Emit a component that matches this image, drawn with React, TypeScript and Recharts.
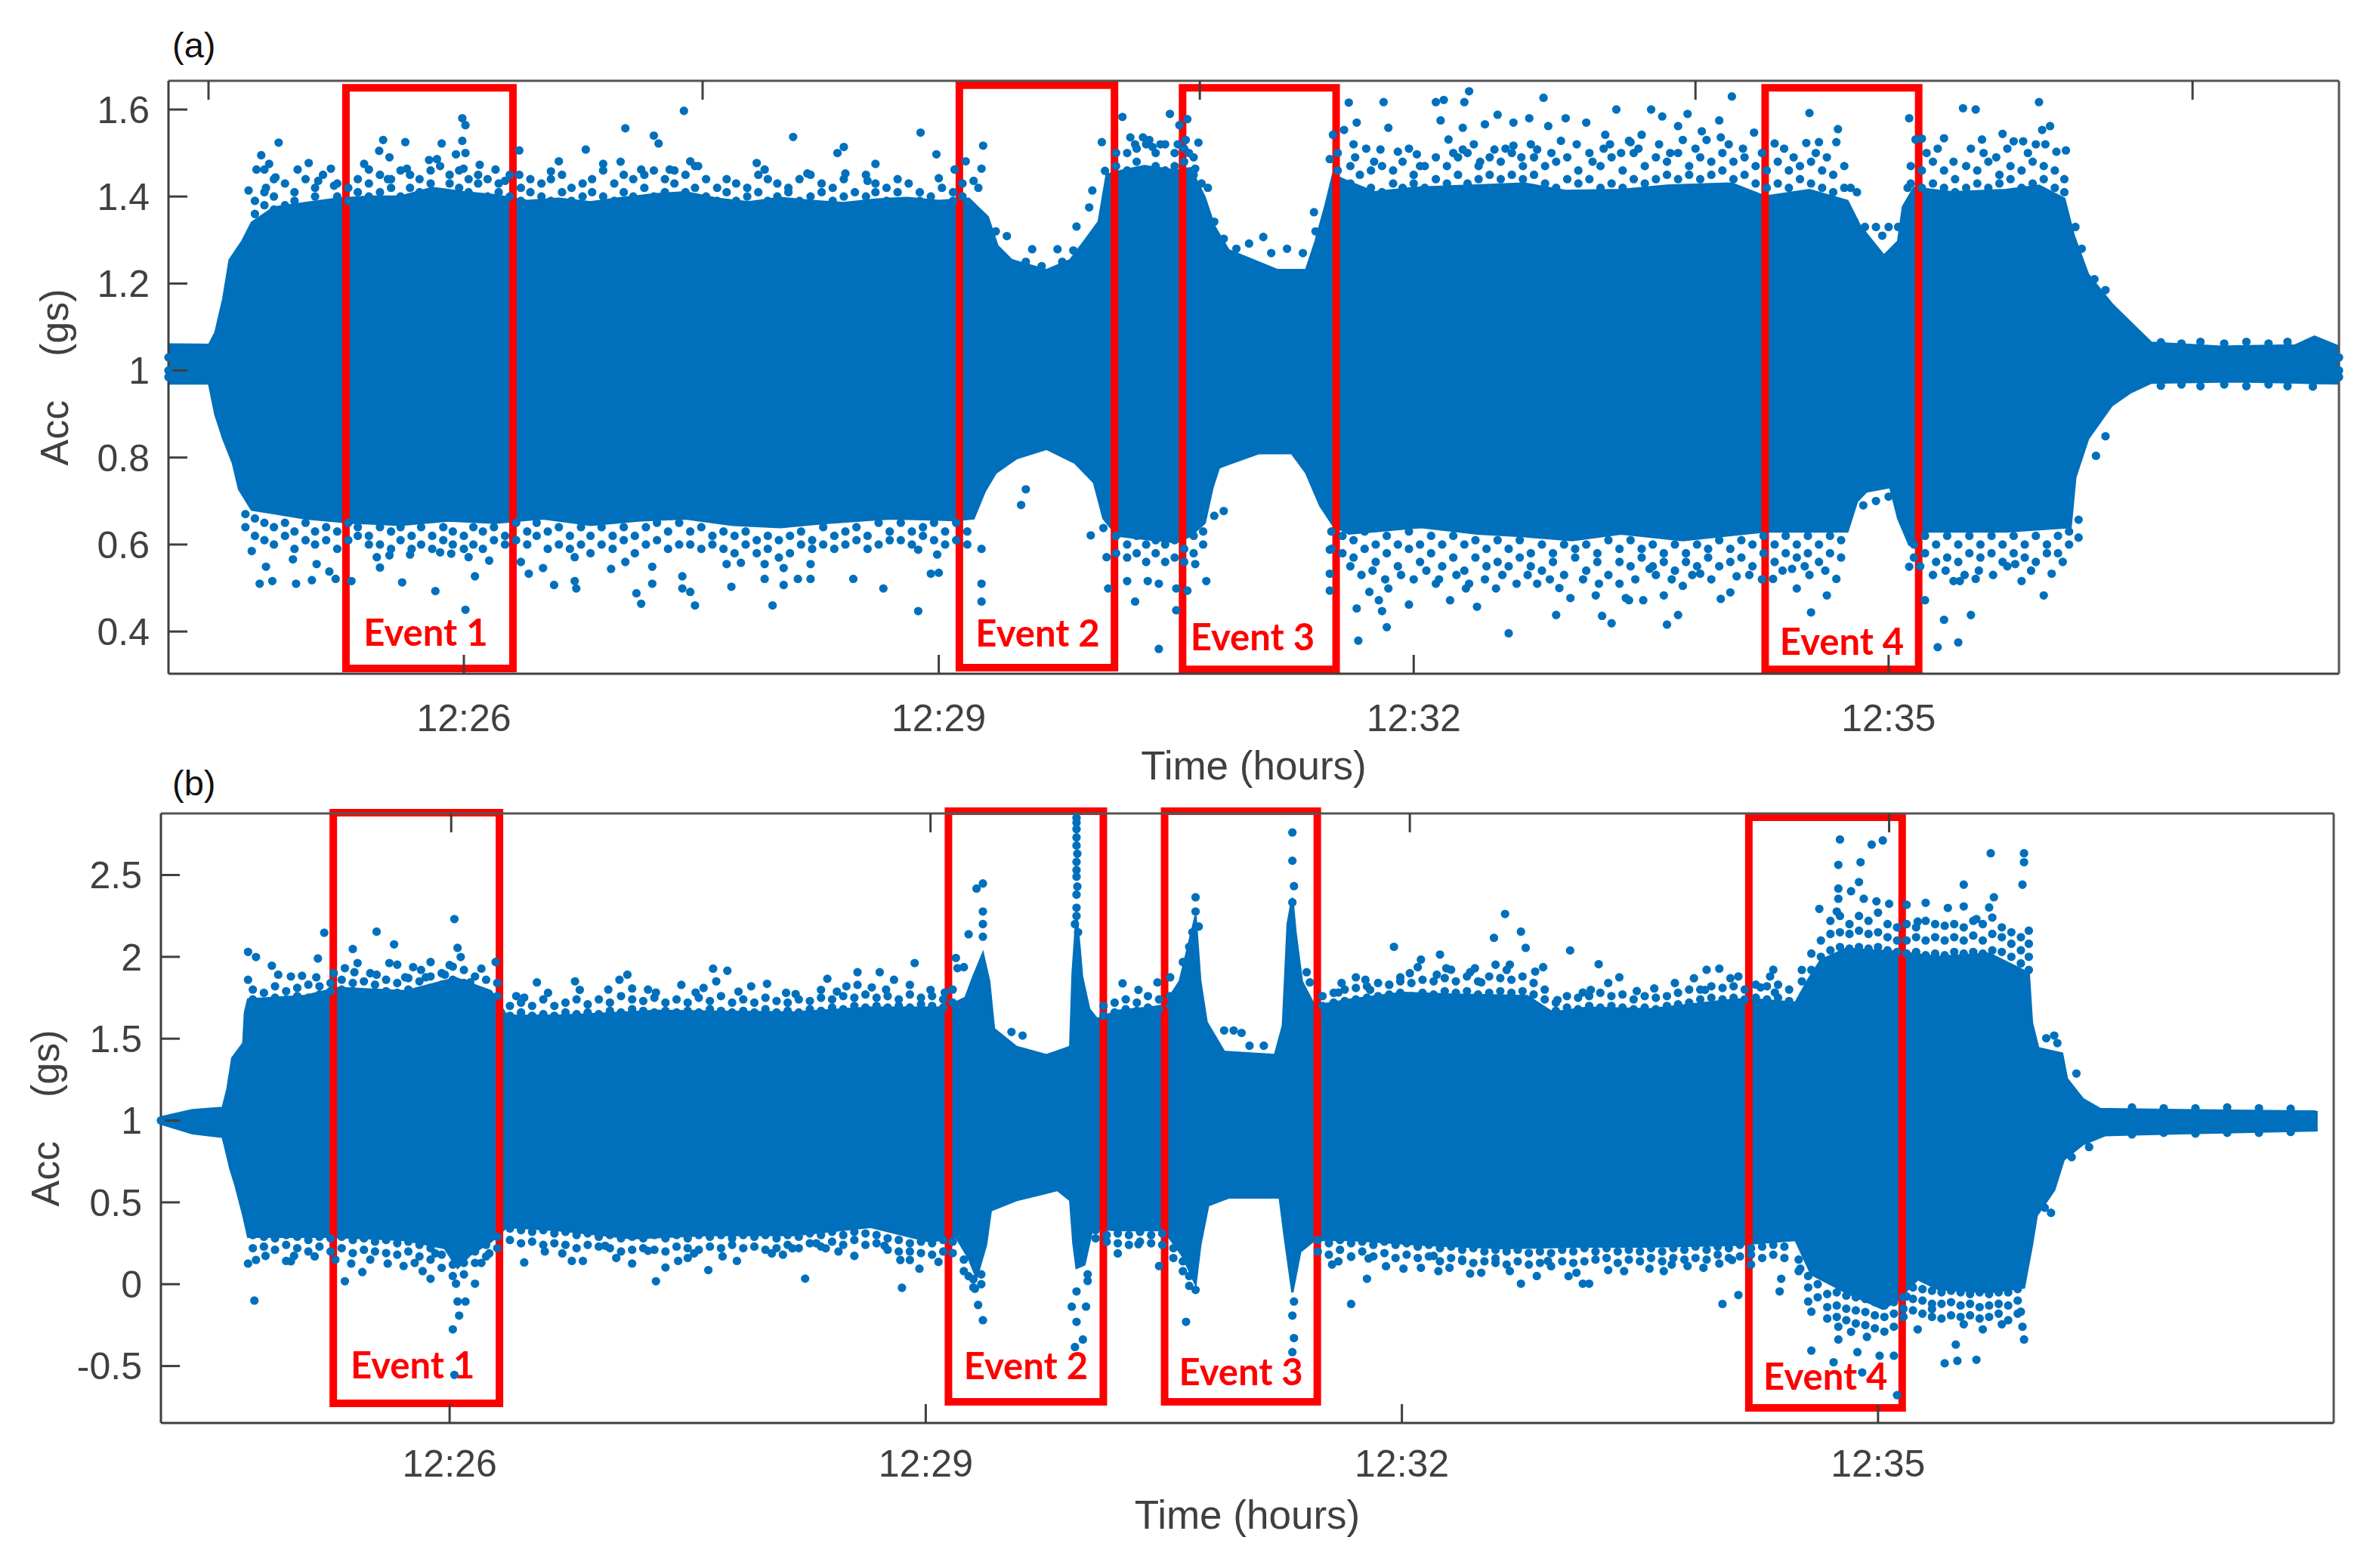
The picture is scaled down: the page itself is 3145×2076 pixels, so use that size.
import React from "react";
import { ComposedChart, Area, Scatter, XAxis, YAxis, ZAxis, ReferenceArea } from "recharts";

type P = [number, number];
type C = [number, number[]];
type Box = [string, number, number, number, number, number, number];

const BLUE = "#0070BC";
const xTickMinutes = [26, 29, 32, 35];
const aYTicks = [0.4, 0.6, 0.8, 1, 1.2, 1.4, 1.6];
const bYTicks = [-0.5, 0, 0.5, 1, 1.5, 2, 2.5];
const aTopTicks = [24.387, 27.508, 30.649, 33.78, 36.92];
const bTopTicks = [26.01, 29.03, 32.05, 35.07];

// [time (minutes after 12:00), dense band top]
const aHigh: P[] = [[24.134,1.06],[24.39,1.059],[24.43,1.087],[24.48,1.165],[24.52,1.254],[24.6,1.297],[24.66,1.34],[24.8,1.375],[25,1.385],[25.2,1.395],[25.4,1.4],[25.6,1.4],[25.8,1.42],[26,1.41],[26.2,1.403],[26.4,1.39],[26.6,1.395],[26.8,1.387],[27,1.397],[27.2,1.405],[27.4,1.41],[27.6,1.395],[27.8,1.387],[28,1.397],[28.2,1.39],[28.4,1.385],[28.6,1.393],[28.8,1.397],[29,1.39],[29.19,1.395],[29.31,1.353],[29.37,1.287],[29.46,1.254],[29.68,1.231],[29.83,1.254],[29.92,1.297],[30.01,1.342],[30.06,1.45],[30.16,1.46],[30.3,1.47],[30.5,1.46],[30.59,1.465],[30.68,1.398],[30.74,1.332],[30.83,1.277],[31.14,1.231],[31.32,1.231],[31.38,1.297],[31.44,1.376],[31.49,1.45],[31.55,1.44],[31.75,1.41],[32,1.42],[32.35,1.425],[32.7,1.43],[32.96,1.413],[33.31,1.415],[33.6,1.425],[34.01,1.43],[34.22,1.4],[34.5,1.415],[34.74,1.39],[34.82,1.332],[34.97,1.264],[35.06,1.297],[35.09,1.376],[35.16,1.42],[35.4,1.41],[35.74,1.415],[35.95,1.425],[36.11,1.395],[36.17,1.31],[36.26,1.221],[36.41,1.153],[36.53,1.11],[36.66,1.064],[37.1,1.055],[37.57,1.058],[37.69,1.078],[37.845,1.055]];
// [time, dense band bottom]
const aLow: P[] = [[24.134,0.97],[24.39,0.97],[24.43,0.899],[24.48,0.843],[24.54,0.788],[24.58,0.727],[24.66,0.68],[25,0.66],[25.3,0.65],[25.6,0.645],[25.9,0.655],[26.2,0.65],[26.5,0.66],[26.8,0.645],[27.1,0.655],[27.4,0.66],[27.7,0.645],[28,0.64],[28.3,0.65],[28.7,0.66],[29.1,0.656],[29.22,0.66],[29.29,0.722],[29.36,0.765],[29.49,0.798],[29.68,0.82],[29.86,0.788],[29.98,0.743],[30.04,0.66],[30.13,0.62],[30.5,0.605],[30.59,0.62],[30.68,0.65],[30.73,0.732],[30.77,0.777],[31.02,0.81],[31.23,0.81],[31.32,0.765],[31.41,0.689],[31.49,0.645],[31.59,0.625],[32.05,0.64],[32.4,0.625],[32.66,0.62],[33,0.61],[33.31,0.625],[33.7,0.61],[34.22,0.63],[34.74,0.63],[34.8,0.699],[34.86,0.722],[35.01,0.732],[35.06,0.66],[35.13,0.6],[35.25,0.63],[35.74,0.63],[36.15,0.64],[36.18,0.755],[36.26,0.843],[36.41,0.92],[36.53,0.95],[36.66,0.972],[37.2,0.975],[37.845,0.97]];

const aTopDots: P[] = [[24.83,1.524],[24.72,1.495],[24.77,1.475],[24.69,1.462],[24.74,1.462],[24.81,1.444],[24.95,1.462],[25.02,1.477],[25.16,1.464],[25.08,1.436],[25.18,1.425],[24.64,1.414],[24.75,1.42],[25.37,1.475],[25.4,1.462],[25.49,1.53],[25.465,1.505],[25.53,1.49],[25.63,1.525],[25.64,1.464],[25.52,1.44],[25.86,1.522],[25.78,1.484],[25.83,1.486],[25.99,1.58],[26.01,1.564],[25.99,1.528],[25.95,1.497],[26.01,1.5],[25.998,1.464],[26.1,1.473],[26.2,1.462],[26.26,1.436],[26.35,1.506],[26.35,1.45],[26.55,1.458],[26.6,1.481],[26.77,1.508],[27.02,1.557],[27.2,1.54],[27.23,1.522],[27.39,1.597],[26.88,1.475],[26.99,1.48],[27.12,1.462],[27.3,1.462],[27.43,1.481],[27.48,1.47],[27.85,1.477],[27.9,1.462],[28.08,1.537],[28.36,1.5],[28.4,1.514],[28.17,1.453],[28.41,1.453],[28.6,1.475],[28.55,1.436],
[28.885,1.547],[28.985,1.497],[29.1,1.462],[29,1.442],[29.28,1.517],[29.17,1.481],[29.27,1.464],[29.22,1.436],[29.25,1.42],[29.97,1.414],[30.03,1.525],[30.05,1.459],[29.95,1.375],[29.87,1.331],[29.43,1.309],[29.36,1.32],[29.59,1.279],[29.75,1.279],[29.85,1.276],[29.55,1.25],[29.65,1.24],[29.78,1.25],[30.16,1.583],[30.46,1.59],[30.21,1.536],[30.29,1.536],[30.35,1.514],[30.57,1.578],[30.52,1.564],[30.51,1.52],[30.64,1.524],[30.62,1.464],[30.74,1.342],[30.8,1.303],[31.05,1.307],[30.96,1.292],[31.37,1.364],[31.38,1.32],[31.47,1.486],[31.49,1.542],[30.7,1.42],[30.66,1.43],[30.88,1.28],[31.2,1.28],[31.1,1.27],[31.3,1.27],[31.59,1.616],[31.81,1.617],[32.14,1.617],[32.19,1.622],[32.32,1.617],[32.35,1.642],[32.82,1.627],[33.28,1.6],[31.56,1.553],[31.64,1.57],[31.84,1.558],[32.17,1.575],[32.31,1.558],[32.45,1.566],[32.53,1.588],[32.63,1.57],[32.73,1.58],[32.85,1.562],[32.96,1.58],[33.09,1.57],[32.93,1.528],[33.21,1.542],[33.36,1.528],[33.44,1.542],[31.62,1.52],[31.79,1.508],[31.9,1.503],[32.02,1.497],[32.22,1.531],[32.31,1.508],[32.51,1.508],[32.63,1.517],[32.78,1.508],[33.24,1.52],
[33.5,1.6],[33.57,1.584],[33.73,1.59],[33.67,1.562],[33.93,1.575],[33.82,1.55],[34.01,1.63],[34.15,1.547],[33.94,1.536],[33.37,1.525],[34.5,1.592],[34.68,1.555],[34.28,1.522],[34.48,1.523],[34.56,1.525],[34.67,1.525],[35.13,1.58],[35.17,1.531],[35.21,1.533],[35.35,1.534],[35.47,1.603],[35.55,1.6],[35.72,1.544],[35.59,1.531],[35.79,1.527],[35.85,1.527],[35.95,1.617],[36.02,1.562],[35.97,1.553],[35.99,1.52],[36.12,1.506],[36.06,1.503],[34.76,1.42],[34.8,1.41],[34.85,1.33],[34.92,1.33],[34.96,1.31],[35,1.33],[35.06,1.33],[35.12,1.42],[36.18,1.33],[36.22,1.28],[36.3,1.21],[36.37,1.185],
[24.134,1.03],[24.134,1.0],[37.845,1.03],[37.845,1.0],[36.72,1.065],[36.85,1.062],[36.97,1.066],[37.12,1.062],[37.26,1.066],[37.4,1.062],[37.52,1.066],
[31.63,1.49],[31.7,1.51],[31.75,1.48],[31.97,1.51],[32.04,1.47],[32.25,1.5],[32.38,1.52],[32.42,1.48],[32.58,1.51],[32.68,1.49],[32.74,1.52],[32.87,1.5],[33.03,1.52],[33.13,1.48],[33.2,1.51],[33.31,1.5],[33.42,1.51],[33.55,1.52],[33.62,1.5],[33.7,1.53],[33.78,1.51],[33.85,1.53],[33.99,1.52],[34.08,1.51],[34.2,1.5],[34.34,1.51],[34.4,1.49],[34.54,1.5],[34.61,1.49],[35.24,1.5],[35.31,1.51],[35.41,1.48],[35.52,1.51],[35.6,1.5],[35.68,1.49],[35.75,1.51],[35.88,1.5],[35.93,1.52],[30.24,1.52],[30.33,1.53],[30.4,1.52],[30.56,1.53],[30.58,1.5]];

const aTopFringe: C[] = [[24.68,[1.36,1.39]],[24.74,[1.38,1.41]],[24.8,[1.37,1.4,1.44]],[24.87,[1.38,1.43]],[24.93,[1.39,1.41]],[25,[1.37,1.44]],[25.06,[1.4,1.42]],[25.11,[1.38,1.45]],[25.2,[1.4,1.43]],[25.27,[1.39,1.42]],[25.33,[1.41,1.44]],[25.4,[1.4,1.43]],[25.47,[1.41,1.45]],[25.54,[1.42,1.44]],[25.6,[1.4,1.46]],[25.66,[1.42,1.45]],[25.72,[1.41,1.44]],[25.79,[1.43,1.46]],[25.85,[1.41,1.47]],[25.91,[1.43,1.45]],[25.97,[1.42,1.46]],[26.03,[1.41,1.44]],[26.09,[1.43,1.45]],[26.15,[1.4,1.44]],[26.22,[1.41,1.43]],[26.29,[1.4,1.45]],[26.36,[1.39,1.42]],[26.42,[1.41,1.44]],[26.49,[1.4,1.43]],[26.55,[1.39,1.44]],[26.62,[1.41,1.45]],[26.68,[1.39,1.42]],[26.75,[1.4,1.43]],[26.81,[1.41,1.44]],[26.88,[1.4,1.46]],[26.95,[1.39,1.43]],[27.01,[1.41,1.45]],[27.07,[1.4,1.44]],[27.14,[1.42,1.45]],[27.2,[1.4,1.46]],[27.27,[1.41,1.44]],[27.33,[1.43,1.46]],[27.4,[1.41,1.45]],[27.46,[1.42,1.47]],[27.53,[1.4,1.44]],[27.6,[1.39,1.42]],[27.66,[1.41,1.44]],[27.72,[1.39,1.43]],[27.79,[1.4,1.42]],[27.86,[1.41,1.45]],[27.92,[1.39,1.44]],[27.98,[1.4,1.43]],[28.05,[1.41,1.42]],[28.12,[1.39,1.44]],[28.19,[1.4,1.45]],[28.26,[1.41,1.43]],[28.33,[1.39,1.42]],[28.4,[1.4,1.44]],[28.47,[1.38,1.41]],[28.54,[1.4,1.45]],[28.6,[1.41,1.43]],[28.67,[1.39,1.42]],[28.74,[1.41,1.44]],[28.81,[1.38,1.43]],[28.88,[1.39,1.41]],[28.95,[1.37,1.4]],[29.02,[1.38,1.42]],[29.09,[1.39,1.41]],[29.15,[1.4,1.43]],
[30.12,[1.47,1.5]],[30.19,[1.46,1.5]],[30.25,[1.48,1.51]],[30.31,[1.46,1.52]],[30.37,[1.47,1.5]],[30.43,[1.46,1.52]],[30.49,[1.47,1.5]],[30.55,[1.48,1.51]],[30.61,[1.45,1.49]],
[31.52,[1.46,1.5]],[31.6,[1.43,1.47]],[31.66,[1.41,1.45]],[31.73,[1.42,1.46]],[31.8,[1.41,1.47]],[31.87,[1.43,1.46]],[31.93,[1.42,1.48]],[32,[1.43,1.45]],[32.07,[1.42,1.47]],[32.14,[1.44,1.49]],[32.21,[1.43,1.47]],[32.28,[1.45,1.49]],[32.34,[1.43,1.5]],[32.41,[1.44,1.47]],[32.48,[1.45,1.49]],[32.55,[1.44,1.48]],[32.62,[1.45,1.5]],[32.69,[1.44,1.47]],[32.76,[1.45,1.49]],[32.83,[1.43,1.47]],[32.9,[1.42,1.48]],[32.97,[1.44,1.49]],[33.04,[1.43,1.46]],[33.11,[1.44,1.5]],[33.18,[1.42,1.47]],[33.25,[1.43,1.49]],[33.32,[1.42,1.46]],[33.39,[1.44,1.5]],[33.46,[1.43,1.47]],[33.53,[1.44,1.49]],[33.6,[1.45,1.48]],[33.67,[1.44,1.5]],[33.74,[1.45,1.47]],[33.81,[1.44,1.49]],[33.88,[1.45,1.48]],[33.95,[1.46,1.5]],[34.02,[1.44,1.48]],[34.09,[1.45,1.49]],[34.16,[1.43,1.47]],[34.23,[1.42,1.46]],[34.3,[1.43,1.48]],[34.37,[1.42,1.46]],[34.44,[1.44,1.47]],[34.51,[1.43,1.48]],[34.58,[1.42,1.46]],[34.65,[1.41,1.45]],[34.72,[1.42,1.47]],
[35.14,[1.43,1.47]],[35.21,[1.42,1.46]],[35.28,[1.43,1.48]],[35.35,[1.42,1.46]],[35.42,[1.41,1.44]],[35.49,[1.42,1.47]],[35.56,[1.43,1.46]],[35.63,[1.42,1.48]],[35.7,[1.43,1.45]],[35.77,[1.44,1.47]],[35.84,[1.42,1.46]],[35.91,[1.43,1.48]],[35.98,[1.44,1.47]],[36.05,[1.42,1.46]],[36.11,[1.41,1.44]]];

const aBottomDots: P[] = [[24.71,0.51],[24.79,0.516],[24.94,0.51],[25.04,0.518],[25.15,0.538],[25.19,0.521],[25.29,0.516],[25.61,0.513],[25.82,0.493],[26.01,0.45],[26.07,0.527],[26.16,0.563],[26.03,0.571],[25.47,0.547],[25.45,0.571],[25.53,0.575],[24.75,0.549],[24.66,0.585],[24.92,0.566],[25.07,0.555],[25.66,0.577],[25.85,0.582],[25.92,0.579],[26.36,0.56],[26.41,0.533],[26.5,0.546],[26.57,0.507],[26.7,0.516],[26.71,0.499],[26.7,0.571],[26.93,0.544],[27.02,0.56],[27.09,0.488],[27.12,0.464],[27.19,0.51],[27.19,0.549],[27.38,0.527],[27.38,0.499],[27.43,0.491],[27.46,0.46],[27.69,0.503],[27.66,0.555],[27.75,0.558],[27.9,0.555],[27.9,0.521],[27.95,0.46],[28.02,0.507],[28.02,0.546],[28.11,0.521],[28.19,0.521],[28.19,0.555],[28.46,0.521],[28.65,0.499],
[28.87,0.447],[28.95,0.533],[29,0.535],[28.99,0.577],[28.87,0.588],[29.27,0.59],[29.27,0.51],[29.27,0.469],[29.52,0.691],[29.55,0.727],[29.96,0.621],[30.04,0.638],[30.06,0.571],[30.07,0.499],[30.19,0.516],[30.24,0.469],[30.39,0.36],[30.32,0.516],[30.39,0.51],[30.5,0.449],[30.5,0.499],[30.57,0.494],[30.69,0.516],[30.62,0.555],[30.8,0.677],[30.74,0.666],[31.47,0.588],[31.47,0.533],[31.47,0.494],[31.64,0.453],[31.65,0.379],[31.72,0.491],[31.78,0.472],[31.8,0.447],[31.83,0.41],[31.97,0.462],[31.84,0.499],[32.14,0.51],[32.23,0.472],[32.33,0.499],[32.4,0.457],[32.6,0.396],[32.52,0.499],[32.9,0.438],[32.78,0.51],[32.99,0.477],[33.15,0.483],[33.19,0.436],[33.25,0.419],[33.36,0.472],[33.45,0.472],
[33.34,0.477],[33.58,0.483],[33.7,0.505],[33.6,0.416],[33.67,0.438],[33.94,0.475],[34,0.49],[34.04,0.527],[33.81,0.533],[33.49,0.544],[34.27,0.521],[34.39,0.544],[34.42,0.499],[34.5,0.53],[34.61,0.483],[34.67,0.521],[34.51,0.444],[35.13,0.549],[35.23,0.472],[35.35,0.427],[35.31,0.364],[35.44,0.375],[35.52,0.438],[35.41,0.516],[35.45,0.516],[35.55,0.521],[35.84,0.516],[35.98,0.483],[36.03,0.533],[35.8,0.555],[36.2,0.616],[36.2,0.657],[36.31,0.804],[36.37,0.849],[34.84,0.69],[34.92,0.7],[35,0.71],
[24.134,0.985],[37.845,0.985],[36.72,0.965],[36.85,0.968],[36.97,0.964],[37.12,0.968],[37.26,0.964],[37.4,0.968],[37.52,0.964],[37.68,0.963],
[31.6,0.55],[31.67,0.53],[31.74,0.54],[31.82,0.52],[31.92,0.53],[32,0.52],[32.08,0.54],[32.16,0.52],[32.27,0.53],[32.35,0.51],[32.45,0.52],[32.56,0.53],[32.65,0.51],[32.72,0.53],[32.86,0.52],[32.92,0.5],[33.07,0.52],[33.17,0.51],[33.3,0.51],[33.4,0.52],[33.53,0.53],[33.63,0.52],[33.76,0.53],[33.88,0.52],[34.12,0.53],[34.2,0.52],[34.33,0.54],[34.47,0.55],[34.6,0.54],[35.2,0.55],[35.28,0.53],[35.36,0.54],[35.48,0.53],[35.57,0.54],[35.66,0.53],[35.75,0.55],[35.9,0.54],[36.1,0.56]];

const aBottomFringe: C[] = [[24.62,[0.67,0.64]],[24.68,[0.66,0.62]],[24.74,[0.65,0.61]],[24.8,[0.64,0.6]],[24.87,[0.65,0.62]],[24.93,[0.63,0.59]],[25,[0.65,0.61]],[25.06,[0.63,0.6]],[25.13,[0.64,0.61]],[25.2,[0.63,0.59]],[25.27,[0.65,0.61]],[25.33,[0.64,0.62]],[25.4,[0.62,0.6]],[25.47,[0.64,0.6]],[25.54,[0.63,0.59]],[25.6,[0.64,0.61]],[25.67,[0.62,0.59]],[25.73,[0.64,0.6]],[25.8,[0.62,0.59]],[25.87,[0.64,0.61]],[25.93,[0.63,0.6]],[26,[0.62,0.59]],[26.06,[0.64,0.6]],[26.12,[0.63,0.59]],[26.19,[0.64,0.61]],[26.26,[0.62,0.6]],[26.33,[0.65,0.61]],[26.4,[0.63,0.6]],[26.46,[0.65,0.62]],[26.53,[0.63,0.59]],[26.6,[0.64,0.6]],[26.67,[0.62,0.59]],[26.74,[0.64,0.6]],[26.8,[0.62,0.58]],[26.87,[0.64,0.6]],[26.94,[0.62,0.59]],[27.01,[0.64,0.61]],[27.08,[0.62,0.58]],[27.15,[0.64,0.6]],[27.22,[0.65,0.61]],[27.29,[0.63,0.59]],[27.36,[0.65,0.6]],[27.43,[0.63,0.6]],[27.5,[0.64,0.59]],[27.57,[0.62,0.6]],[27.64,[0.63,0.59]],[27.71,[0.62,0.58]],[27.78,[0.63,0.6]],[27.85,[0.61,0.58]],[27.92,[0.62,0.59]],[27.99,[0.61,0.57]],[28.06,[0.62,0.58]],[28.13,[0.63,0.6]],[28.2,[0.61,0.59]],[28.27,[0.64,0.6]],[28.34,[0.62,0.59]],[28.41,[0.63,0.6]],[28.48,[0.64,0.61]],[28.55,[0.62,0.59]],[28.62,[0.65,0.6]],[28.69,[0.63,0.61]],[28.76,[0.65,0.61]],[28.83,[0.63,0.6]],[28.9,[0.64,0.62]],[28.97,[0.65,0.61]],[29.04,[0.63,0.6]],[29.11,[0.65,0.61]],[29.18,[0.63,0.6]],
[30.12,[0.62,0.58]],[30.19,[0.6,0.57]],[30.25,[0.62,0.58]],[30.31,[0.6,0.56]],[30.37,[0.61,0.58]],[30.43,[0.6,0.56]],[30.49,[0.61,0.57]],[30.55,[0.59,0.56]],[30.61,[0.62,0.58]],[30.67,[0.63,0.6]],
[31.48,[0.63,0.59]],[31.55,[0.62,0.58]],[31.62,[0.61,0.57]],[31.69,[0.63,0.59]],[31.76,[0.6,0.56]],[31.83,[0.62,0.58]],[31.9,[0.6,0.55]],[31.97,[0.63,0.59]],[32.04,[0.6,0.56]],[32.11,[0.62,0.58]],[32.18,[0.6,0.55]],[32.25,[0.62,0.57]],[32.32,[0.6,0.54]],[32.39,[0.61,0.57]],[32.46,[0.59,0.55]],[32.53,[0.61,0.56]],[32.6,[0.59,0.55]],[32.67,[0.61,0.57]],[32.74,[0.58,0.55]],[32.81,[0.6,0.54]],[32.88,[0.58,0.56]],[32.95,[0.6,0.53]],[33.02,[0.59,0.57]],[33.09,[0.6,0.54]],[33.16,[0.58,0.56]],[33.23,[0.61,0.53]],[33.3,[0.59,0.56]],[33.37,[0.61,0.55]],[33.44,[0.59,0.57]],[33.51,[0.6,0.55]],[33.58,[0.58,0.56]],[33.65,[0.6,0.54]],[33.72,[0.58,0.56]],[33.79,[0.6,0.55]],[33.86,[0.59,0.57]],[33.93,[0.61,0.55]],[34,[0.59,0.56]],[34.07,[0.61,0.57]],[34.14,[0.6,0.55]],[34.21,[0.62,0.58]],[34.28,[0.6,0.56]],[34.35,[0.62,0.58]],[34.42,[0.6,0.57]],[34.49,[0.62,0.58]],[34.56,[0.6,0.56]],[34.63,[0.62,0.58]],[34.7,[0.61,0.57]],
[35.16,[0.6,0.57]],[35.23,[0.62,0.58]],[35.3,[0.6,0.56]],[35.37,[0.62,0.57]],[35.44,[0.6,0.56]],[35.51,[0.62,0.58]],[35.58,[0.6,0.57]],[35.65,[0.62,0.58]],[35.72,[0.6,0.56]],[35.79,[0.62,0.58]],[35.86,[0.6,0.57]],[35.93,[0.62,0.56]],[36,[0.6,0.58]],[36.07,[0.62,0.58]],[36.14,[0.63,0.6]]];

const bHigh: P[] = [[24.181,1.02],[24.38,1.064],[24.57,1.077],[24.6,1.194],[24.63,1.38],[24.7,1.473],[24.71,1.658],[24.73,1.74],[25.08,1.76],[25.3,1.81],[25.72,1.79],[26.04,1.87],[26.26,1.79],[26.36,1.64],[26.68,1.64],[27.31,1.67],[28.17,1.66],[28.65,1.69],[29.12,1.69],[29.25,1.75],[29.3,1.88],[29.36,2.02],[29.4,1.85],[29.43,1.56],[29.57,1.45],[29.76,1.4],[29.91,1.45],[29.925,1.9],[29.95,2.25],[29.97,2.05],[29.985,1.88],[30.03,1.68],[30.08,1.62],[30.21,1.67],[30.5,1.7],[30.6,1.85],[30.7,2.25],[30.73,1.85],[30.77,1.6],[30.88,1.42],[31.2,1.4],[31.25,1.58],[31.28,2.2],[31.31,2.36],[31.33,2.15],[31.37,1.85],[31.45,1.7],[31.68,1.74],[32,1.78],[32.31,1.77],[32.79,1.76],[32.95,1.66],[33.17,1.69],[33.56,1.68],[34.1,1.74],[34.23,1.74],[34.48,1.72],[34.56,1.86],[34.64,1.98],[34.8,2.05],[35.12,2.03],[35.38,2],[35.7,2.02],[35.95,1.9],[35.97,1.596],[36.01,1.442],[36.16,1.41],[36.19,1.256],[36.29,1.132],[36.4,1.07],[36.91,1.064],[37.75,1.055],[37.77,1.05]];
const bLow: P[] = [[24.181,0.98],[24.38,0.922],[24.57,0.9],[24.62,0.7],[24.65,0.606],[24.7,0.42],[24.73,0.29],[25.24,0.29],[25.72,0.27],[25.97,0.22],[26.05,0.1],[26.13,0.18],[26.26,0.26],[26.36,0.35],[26.68,0.33],[27.15,0.28],[27.63,0.3],[28.17,0.3],[28.65,0.35],[29.03,0.26],[29.19,0.29],[29.27,0.16],[29.32,0.04],[29.38,0.24],[29.41,0.451],[29.57,0.513],[29.83,0.575],[29.91,0.513],[29.93,0.25],[29.95,0.1],[30,0.12],[30.05,0.34],[30.21,0.33],[30.5,0.33],[30.62,0.17],[30.7,0],[30.73,0.24],[30.78,0.482],[30.91,0.529],[31.23,0.529],[31.26,0.3],[31.31,-0.05],[31.36,0.2],[31.45,0.27],[31.68,0.27],[32.15,0.24],[32.63,0.22],[33.17,0.23],[33.56,0.23],[34.1,0.24],[34.48,0.27],[34.58,0.06],[34.8,-0.05],[35.03,-0.15],[35.12,-0.1],[35.25,0.03],[35.38,-0.03],[35.7,-0.05],[35.92,-0.02],[35.97,0.24],[36,0.42],[36.11,0.575],[36.17,0.761],[36.29,0.854],[36.43,0.91],[36.91,0.922],[37.77,0.94]];

const bTopDots: P[] = [[26.03,2.231],[25.21,2.147],[25.54,2.154],[25.39,2.048],[25.65,2.076],[26.05,2.055],[25.17,1.99],[24.73,2.03],[24.78,1.999],[24.88,1.946],[25.62,1.962],[25.67,1.952],[25.77,1.937],[25.88,1.968],[25.34,1.931],[25.42,1.962],[26.07,1.999],[26.2,1.928],[26.29,1.968],[24.73,1.86],[24.92,1.891],[25.07,1.884],[25.16,1.875],[25.4,1.906],[25.54,1.891],[25.72,1.875],[25.85,1.875],[25.97,1.891],[26.13,1.844],[26.55,1.844],[26.79,1.85],[27.12,1.891],[27.66,1.928],[27.75,1.915],[27.68,1.85],[27.46,1.829],[28,1.835],[27.07,1.86],[27.15,1.807],[27.82,1.788],[26.82,1.798],[27.3,1.782],[27.55,1.782],[26.47,1.751],
[29.36,2.448],[29.32,2.417],[29.36,2.277],[29.36,2.2],[29.27,2.138],[29.36,2.123],[29.19,1.993],[29.2,1.931],[29.24,1.937],[28.93,1.962],[28.57,1.906],[28.38,1.866],[28.71,1.906],[28.8,1.86],[28.18,1.773],[28.34,1.798],[28.44,1.788],[28.57,1.829],[28.66,1.813],[28.9,1.829],[29.03,1.798],[29.12,1.782],[29.54,1.541],[29.61,1.519],
[29.95,2.85],[29.95,2.82],[29.95,2.78],[29.95,2.73],[29.95,2.68],[29.955,2.63],[29.95,2.58],[29.95,2.53],[29.95,2.49],[29.955,2.43],[29.95,2.38],[29.95,2.3],[29.95,2.25],[29.94,2.2],[29.96,2.15],
[30.24,1.838],[30.34,1.798],[30.46,1.844],[30.54,1.875],[30.7,2.364],[30.7,2.277],[30.72,2.185],[30.66,2.061],[30.62,1.968],[30.68,2.15],[31.31,2.76],[31.31,2.587],[31.32,2.432],[31.31,2.333],[31.4,1.906],[31.42,1.844],[31.71,1.875],[31.95,2.061],[32.12,1.983],[32.24,2.014],[32.1,1.937],[31.99,1.875],[32.65,2.262],[32.75,2.154],[32.58,2.116],[32.78,2.055],[33.06,2.039],[32.59,1.952],[32.68,1.952],[32.89,1.937],[32.22,1.891],[32.31,1.921],[32.43,1.906],[32.5,1.844],[31.6,1.782],[31.8,1.798],[31.92,1.829],[32.98,1.736],[33.14,1.782],[30.94,1.55],[30.99,1.535],[30.88,1.55],[31.04,1.457],[31.13,1.457],
[33.24,1.955],[33.37,1.875],[33.48,1.791],[33.59,1.807],[33.92,1.921],[34,1.928],[33.84,1.869],[34.07,1.869],[33.91,1.798],[34.34,1.921],[34.35,1.782],[34.26,1.813],[33.19,1.798],[34.76,2.717],[34.96,2.686],[35.03,2.711],[34.75,2.562],[34.89,2.578],[34.88,2.457],[34.75,2.417],[34.83,2.401],[34.75,2.355],[34.91,2.355],[34.99,2.339],[34.63,2.293],[34.74,2.277],[35.07,2.324],[35.18,2.318],[35.3,2.33],[35.44,2.299],[35.54,2.308],[35.54,2.441],[35.71,2.633],[35.92,2.633],[35.92,2.578],[35.91,2.441],[35.73,2.364],[35.7,2.302],[35.62,2.231],[35.95,2.16],[35.25,2.215],[36.11,1.519],[36.25,1.287],[36.13,1.473],[36.06,1.503],
[24.181,1.0],[36.6,1.08],[36.8,1.075],[37,1.075],[37.2,1.08],[37.4,1.075],[37.6,1.072],
[25,1.88],[25.27,1.9],[25.5,1.9],[25.82,1.92],[26,1.95],[26.42,1.76],[26.62,1.78],[27,1.8],[27.25,1.8],[27.6,1.81],[27.9,1.82],[28.12,1.78],[28.5,1.82],[28.75,1.8],[31.62,1.84],[31.77,1.86],[32.05,1.9],[32.28,1.93],[32.46,1.93],[32.66,1.92],[32.84,1.91],[33.3,1.84],[33.72,1.84],[34.12,1.88],[34.32,1.88]];

const bTopFringe: C[] = [[24.76,[1.74,1.8]],[24.83,[1.72,1.78]],[24.9,[1.75,1.82]],[24.97,[1.74,1.79]],[25.04,[1.76,1.81]],[25.11,[1.75,1.83]],[25.18,[1.77,1.82]],[25.25,[1.79,1.84]],[25.32,[1.8,1.86]],[25.39,[1.79,1.84]],[25.46,[1.78,1.85]],[25.53,[1.77,1.83]],[25.6,[1.79,1.86]],[25.67,[1.78,1.84]],[25.74,[1.8,1.87]],[25.81,[1.79,1.85]],[25.88,[1.81,1.88]],[25.95,[1.83,1.9]],[26.02,[1.86,1.94]],[26.09,[1.84,1.92]],[26.16,[1.8,1.88]],[26.23,[1.78,1.86]],[26.3,[1.76,1.84]],
[26.38,[1.64,1.7]],[26.45,[1.66,1.72]],[26.52,[1.64,1.7]],[26.59,[1.65,1.74]],[26.66,[1.64,1.7]],[26.73,[1.66,1.72]],[26.8,[1.65,1.74]],[26.87,[1.66,1.71]],[26.94,[1.65,1.74]],[27.01,[1.67,1.72]],[27.08,[1.66,1.76]],[27.15,[1.68,1.74]],[27.22,[1.67,1.73]],[27.29,[1.66,1.75]],[27.36,[1.67,1.72]],[27.43,[1.66,1.74]],[27.5,[1.67,1.72]],[27.57,[1.66,1.75]],[27.64,[1.68,1.73]],[27.71,[1.67,1.76]],[27.78,[1.66,1.72]],[27.85,[1.67,1.74]],[27.92,[1.66,1.72]],[27.99,[1.68,1.75]],[28.06,[1.66,1.73]],[28.13,[1.67,1.72]],[28.2,[1.66,1.74]],[28.27,[1.68,1.73]],[28.34,[1.67,1.75]],[28.41,[1.69,1.74]],[28.48,[1.68,1.76]],[28.55,[1.7,1.75]],[28.62,[1.69,1.77]],[28.69,[1.7,1.75]],[28.76,[1.69,1.76]],[28.83,[1.7,1.74]],[28.9,[1.69,1.77]],[28.97,[1.71,1.75]],[29.04,[1.7,1.76]],[29.11,[1.69,1.74]],[29.17,[1.72,1.8]],
[30.12,[1.64,1.7]],[30.19,[1.66,1.72]],[30.26,[1.68,1.74]],[30.33,[1.67,1.72]],[30.4,[1.69,1.76]],[30.47,[1.68,1.74]],[30.54,[1.7,1.76]],
[31.5,[1.7,1.76]],[31.57,[1.72,1.78]],[31.64,[1.73,1.8]],[31.71,[1.74,1.81]],[31.78,[1.75,1.82]],[31.85,[1.76,1.84]],[31.92,[1.77,1.83]],[31.99,[1.78,1.85]],[32.06,[1.76,1.84]],[32.13,[1.78,1.86]],[32.2,[1.77,1.85]],[32.27,[1.79,1.87]],[32.34,[1.78,1.85]],[32.41,[1.79,1.88]],[32.48,[1.77,1.85]],[32.55,[1.78,1.88]],[32.62,[1.79,1.87]],[32.69,[1.78,1.86]],[32.76,[1.79,1.88]],[32.83,[1.77,1.84]],[32.9,[1.74,1.8]],[32.97,[1.67,1.72]],[33.04,[1.69,1.76]],[33.11,[1.68,1.75]],[33.18,[1.7,1.76]],[33.25,[1.69,1.78]],[33.32,[1.7,1.76]],[33.39,[1.69,1.77]],[33.46,[1.68,1.74]],[33.53,[1.69,1.76]],[33.6,[1.68,1.75]],[33.67,[1.7,1.76]],[33.74,[1.71,1.78]],[33.81,[1.72,1.8]],[33.88,[1.74,1.8]],[33.95,[1.75,1.82]],[34.02,[1.74,1.81]],[34.09,[1.75,1.82]],[34.16,[1.74,1.8]],[34.23,[1.75,1.83]],[34.3,[1.74,1.82]],[34.37,[1.75,1.83]],[34.44,[1.73,1.8]],
[34.52,[1.85,1.92]],[34.58,[1.92,2.02]],[34.64,[2,2.1]],[34.7,[2.04,2.14,2.22]],[34.76,[2.06,2.15,2.25]],[34.82,[2.05,2.14,2.2]],[34.88,[2.06,2.16,2.25]],[34.94,[2.05,2.14,2.22]],[35,[2.06,2.15,2.27]],[35.06,[2.04,2.12,2.2]],[35.12,[2.03,2.1,2.18]],[35.18,[2.02,2.1,2.2]],[35.24,[2.03,2.12,2.18]],[35.3,[2.01,2.1,2.22]],[35.36,[2.02,2.12,2.2]],[35.42,[2.01,2.1,2.19]],[35.48,[2.03,2.12,2.2]],[35.54,[2.02,2.1,2.18]],[35.6,[2.03,2.13,2.22]],[35.66,[2.02,2.1,2.2]],[35.72,[2.04,2.14,2.24]],[35.78,[2.03,2.12,2.18]],[35.84,[2,2.08,2.15]],[35.9,[1.96,2.04,2.12]],[35.95,[1.92,2,2.08]]];

const bBottomDots: P[] = [[24.77,-0.1],[26.03,-0.554],[26.02,-0.276],[26.06,-0.192],[26.05,-0.106],[26.1,-0.106],[25.34,0.018],[25.45,0.074],[25.88,0.033],[25.83,0.08],[26.16,0.003],[26.04,0.003],[26.47,0.133],[27.3,0.018],[27.63,0.086],[27.15,0.126],[26.77,0.142],[26.84,0.142],[27.36,0.102],[27.44,0.142],[27.81,0.142],[24.73,0.126],[24.78,0.148],[24.84,0.173],[25.02,0.173],[24.97,0.142],[25.38,0.126],[25.61,0.126],[25.71,0.111],[25.91,0.188],[26.25,0.188],[26.71,0.188],[26.98,0.235],[27.25,0.204],[27.54,0.188],[28.03,0.188],[28.16,0.219],
[28.24,0.034],[28.85,-0.022],[28.37,0.219],[28.55,0.173],[28.31,0.25],[28.84,0.148],[28.9,0.148],[28.96,0.095],[29.08,0.136],[28.74,0.235],[29.36,-0.22],[29.33,-0.127],[29.31,-0.028],[29.27,0.049],[29.95,-0.23],[30.01,-0.137],[29.92,-0.137],[29.99,-0.338],[29.94,-0.384],[29.95,-0.044],[30.21,0.188],[30.34,0.244],[30.47,0.111],[30.64,-0.23],[30.7,-0.035],[31.31,-0.192],[31.32,-0.329],[31.31,-0.415],[31.32,-0.106],[31.56,0.12],[31.68,-0.121],[31.78,0.033],[31.79,0.157],[31.68,0.167],[32.01,0.095],[32.23,0.08],[32.43,0.065],[32.75,0.003],[33.05,0.049],[33.14,0.003],[32.92,0.142],[32.38,0.142],[32.2,0.173],[32.59,0.157],
[33.18,0.003],[33.56,0.095],[33.3,0.086],[33.7,0.12],[33.8,0.111],[34.02,-0.121],[34.12,-0.066],[34,0.126],[34.08,0.148],[34.38,-0.044],[34.39,0.033],[34.51,0.095],[34.58,-0.406],[34.72,-0.477],[34.87,-0.415],[35.01,-0.437],[35.1,-0.437],[35.12,-0.678],[34.9,-0.539],[34.75,-0.338],[34.75,-0.26],[34.83,-0.291],[34.93,-0.322],[34.56,-0.106],[34.58,-0.168],[35.42,-0.483],[35.5,-0.468],[35.62,-0.462],[35.49,-0.369],[35.25,-0.276],[35.18,-0.075],[35.34,-0.152],[35.54,-0.245],[35.66,-0.276],[35.78,-0.245],[35.92,-0.338],[35.91,-0.26],[35.9,-0.168],[36.05,0.467],[36.09,0.436],[36.33,0.838],[36.22,0.776],
[36.6,0.915],[36.8,0.925],[37,0.92],[37.2,0.925],[37.4,0.925],[37.6,0.93],
[25,0.14],[25.15,0.17],[25.28,0.15],[25.5,0.15],[25.78,0.13],[26.2,0.13],[26.6,0.2],[27.05,0.16],[27.5,0.16],[27.72,0.17],[28.1,0.18],[28.45,0.2],[31.6,0.14],[31.9,0.11],[32.12,0.1],[32.3,0.1],[32.5,0.07],[32.68,0.08],[32.85,0.05],[33.1,0.07],[33.4,0.08],[33.65,0.08],[33.9,0.1],[34.2,0.12]];

const bBottomFringe: C[] = [[24.76,[0.3,0.22]],[24.83,[0.29,0.23]],[24.9,[0.28,0.21]],[24.97,[0.3,0.24]],[25.04,[0.29,0.22]],[25.11,[0.27,0.2]],[25.18,[0.29,0.23]],[25.25,[0.28,0.2]],[25.32,[0.29,0.22]],[25.39,[0.27,0.19]],[25.46,[0.28,0.21]],[25.53,[0.26,0.2]],[25.6,[0.27,0.19]],[25.67,[0.25,0.18]],[25.74,[0.26,0.2]],[25.81,[0.24,0.17]],[25.88,[0.22,0.15]],[25.95,[0.18,0.1]],[26.02,[0.12,0.05]],[26.09,[0.13,0.06]],[26.16,[0.2,0.13]],[26.23,[0.24,0.17]],[26.3,[0.29,0.22]],
[26.38,[0.34,0.27]],[26.45,[0.33,0.25]],[26.52,[0.32,0.26]],[26.59,[0.33,0.24]],[26.66,[0.31,0.25]],[26.73,[0.32,0.24]],[26.8,[0.3,0.22]],[26.87,[0.31,0.24]],[26.94,[0.29,0.23]],[27.01,[0.3,0.22]],[27.08,[0.28,0.2]],[27.15,[0.29,0.21]],[27.22,[0.28,0.22]],[27.29,[0.3,0.21]],[27.36,[0.28,0.2]],[27.43,[0.3,0.23]],[27.5,[0.28,0.22]],[27.57,[0.3,0.21]],[27.64,[0.29,0.23]],[27.71,[0.3,0.22]],[27.78,[0.28,0.24]],[27.85,[0.3,0.22]],[27.92,[0.29,0.23]],[27.99,[0.3,0.21]],[28.06,[0.28,0.22]],[28.13,[0.3,0.24]],[28.2,[0.29,0.22]],[28.27,[0.31,0.25]],[28.34,[0.3,0.23]],[28.41,[0.32,0.26]],[28.48,[0.3,0.24]],[28.55,[0.32,0.27]],[28.62,[0.31,0.24]],[28.69,[0.3,0.25]],[28.76,[0.28,0.21]],[28.83,[0.27,0.2]],[28.9,[0.25,0.2]],[28.97,[0.26,0.19]],[29.04,[0.25,0.18]],[29.11,[0.27,0.2]],[29.17,[0.26,0.19]],[29.24,[0.15,0.08]],[29.3,[0.03,-0.02]],[29.35,[0.06,0]],
[30.02,[0.06,0.02]],[30.07,[0.28,0.33]],[30.14,[0.3,0.26]],[30.21,[0.31,0.25]],[30.28,[0.3,0.24]],[30.35,[0.32,0.26]],[30.42,[0.3,0.25]],[30.49,[0.31,0.24]],[30.56,[0.22,0.16]],[30.62,[0.14,0.08]],[30.66,[0.05,-0.01]],
[31.47,[0.27,0.2]],[31.54,[0.25,0.18]],[31.61,[0.27,0.21]],[31.68,[0.25,0.17]],[31.75,[0.26,0.2]],[31.82,[0.24,0.17]],[31.89,[0.26,0.19]],[31.96,[0.24,0.16]],[32.03,[0.25,0.18]],[32.1,[0.23,0.16]],[32.17,[0.24,0.17]],[32.24,[0.22,0.14]],[32.31,[0.23,0.16]],[32.38,[0.21,0.15]],[32.45,[0.22,0.13]],[32.52,[0.2,0.14]],[32.59,[0.21,0.13]],[32.66,[0.2,0.12]],[32.73,[0.21,0.14]],[32.8,[0.19,0.12]],[32.87,[0.2,0.13]],[32.94,[0.19,0.11]],[33.01,[0.21,0.14]],[33.08,[0.2,0.13]],[33.15,[0.22,0.14]],[33.22,[0.2,0.15]],[33.29,[0.22,0.16]],[33.36,[0.2,0.13]],[33.43,[0.21,0.15]],[33.5,[0.2,0.14]],[33.57,[0.22,0.16]],[33.64,[0.2,0.14]],[33.71,[0.22,0.16]],[33.78,[0.21,0.15]],[33.85,[0.23,0.16]],[33.92,[0.21,0.15]],[33.99,[0.23,0.18]],[34.06,[0.22,0.16]],[34.13,[0.24,0.17]],[34.2,[0.22,0.18]],[34.27,[0.23,0.16]],[34.34,[0.24,0.18]],[34.41,[0.23,0.16]],
[34.5,[0.15,0.08]],[34.56,[0.05,-0.02]],[34.62,[0,-0.08]],[34.68,[-0.06,-0.14,-0.21]],[34.74,[-0.05,-0.13,-0.2]],[34.8,[-0.07,-0.15,-0.22]],[34.86,[-0.08,-0.16,-0.24]],[34.92,[-0.09,-0.17,-0.25]],[34.98,[-0.11,-0.19,-0.27]],[35.04,[-0.13,-0.2,-0.29]],[35.1,[-0.11,-0.18,-0.26]],[35.16,[-0.08,-0.15,-0.2]],[35.22,[-0.02,-0.09,-0.16]],[35.28,[-0.03,-0.1,-0.18]],[35.34,[-0.04,-0.12,-0.2]],[35.4,[-0.05,-0.12,-0.21]],[35.46,[-0.04,-0.11,-0.19]],[35.52,[-0.05,-0.13,-0.2]],[35.58,[-0.06,-0.12,-0.19]],[35.64,[-0.05,-0.14,-0.21]],[35.7,[-0.06,-0.13,-0.2]],[35.76,[-0.05,-0.12,-0.18]],[35.82,[-0.05,-0.13,-0.22]],[35.88,[-0.03,-0.1,-0.18]]];

// [label, x1, x2, y-top, y-bottom, label offset, label dx]
const aEvents: Box[] = [["Event 1",25.255,26.31,1.65,0.315,30,-5],["Event 2",29.13,30.11,1.656,0.317,28,1],["Event 3",30.54,31.51,1.65,0.313,25,-9],["Event 4",34.22,35.19,1.65,0.313,19,0]];
const bEvents: Box[] = [["Event 1",25.267,26.314,2.881,-0.728,33,-5],["Event 2",29.143,30.119,2.89,-0.719,30,0],["Event 3",30.505,31.467,2.89,-0.719,22,0],["Event 4",34.186,35.152,2.853,-0.756,24,0]];

const merge = (hi: P[], lo: P[]) => {
  const lerp = (arr: P[], t: number) => {
    for (let i = 1; i < arr.length; i++) {
      if (t <= arr[i][0]) {
        const [t0, v0] = arr[i - 1];
        const [t1, v1] = arr[i];
        return v0 + ((v1 - v0) * (t - t0)) / (t1 - t0);
      }
    }
    return arr[arr.length - 1][1];
  };
  const ts = Array.from(new Set([...hi.map((p) => p[0]), ...lo.map((p) => p[0])])).sort((a, b) => a - b);
  return ts.map((t) => ({ t, band: [lerp(lo, t), lerp(hi, t)] }));
};
const toDots = (d: P[], cols: C[]) => [...d.map(([t, v]) => ({ t, v })), ...cols.flatMap(([t, vs]) => vs.map((v) => ({ t, v })))];

const AXIS = "#3f3f3f";
const SANS = "'Liberation Sans', Arial, sans-serif";
const tickStyle = { fill: "#404040", fontSize: 50, fontFamily: SANS };
const fmtX = (t: number) => `12:${t}`;

function Panel(p: {
  w: number; h: number; top: number; margin: any; xDomain: number[]; yDomain: number[]; yTicks: number[]; topTicks: number[];
  high: P[]; low: P[]; topDots: any[]; bottomDots: any[]; events: Box[]; xMargin: number; labelOffset: number;
}) {
  const data = merge(p.high, p.low);
  return (
    <div style={{ position: "absolute", left: 0, top: p.top }}>
      <ComposedChart width={p.w} height={p.h} data={data} margin={p.margin}>
        <XAxis xAxisId="main" dataKey="t" type="number" domain={p.xDomain} ticks={xTickMinutes} interval={0} tickFormatter={fmtX}
          height={140} tickSize={-25} tickMargin={p.xMargin} stroke={AXIS} strokeWidth={3} tickLine={{ stroke: AXIS, strokeWidth: 3 }} tick={tickStyle}
          label={{ value: "Time (hours)", position: "insideBottom", offset: 0, style: { fill: "#404040", fontSize: 53, fontFamily: SANS } }} />
        <XAxis xAxisId="top" orientation="top" type="number" dataKey="t" domain={p.xDomain} ticks={p.topTicks} interval={0}
          height={1} mirror tickSize={25} stroke="#555555" strokeWidth={3} tickLine={{ stroke: AXIS, strokeWidth: 3 }} tick={() => <g />} />
        <YAxis yAxisId="main" type="number" domain={p.yDomain} ticks={p.yTicks} interval={0} width={203} tickSize={-25} tickMargin={50}
          stroke={AXIS} strokeWidth={3} tickLine={{ stroke: AXIS, strokeWidth: 3 }} tick={tickStyle}
          label={{ value: "Acc\u00A0\u00A0\u00A0\u00A0(gs)", angle: -90, position: "insideLeft", offset: p.labelOffset, style: { textAnchor: "middle", fill: "#404040", fontSize: 52, fontFamily: SANS } }} />
        <YAxis yAxisId="right" orientation="right" type="number" domain={p.yDomain} ticks={p.yTicks} interval={0} width={1} mirror tickSize={25}
          stroke="#555555" strokeWidth={3} tickLine={{ stroke: AXIS, strokeWidth: 3 }} tick={() => <g />} />
        <ZAxis range={[100, 100]} />
        <Area xAxisId="main" yAxisId="main" dataKey="band" type="linear" stroke={BLUE} strokeWidth={3} fill={BLUE} fillOpacity={1} dot={false} activeDot={false} isAnimationActive={false} />
        <Scatter xAxisId="main" yAxisId="main" data={p.topDots} dataKey="v" fill={BLUE} isAnimationActive={false} />
        <Scatter xAxisId="main" yAxisId="main" data={p.bottomDots} dataKey="v" fill={BLUE} isAnimationActive={false} />
        {p.events.map(([name, x1, x2, y1, y2, off, dx]) => (
          <ReferenceArea key={name} xAxisId="main" yAxisId="main" x1={x1} x2={x2} y1={y1} y2={y2} ifOverflow="visible" fill="none" stroke="#FF0000" strokeWidth={10}
            label={{ value: name, position: "insideBottom", offset: off, dx, style: { fill: "#FF0000", fontSize: 49, fontWeight: 700, fontFamily: "Lato, sans-serif" } }} />
        ))}
      </ComposedChart>
    </div>
  );
}

export default function App() {
  return (
    <div style={{ position: "absolute", left: 0, top: 0, width: 3145, height: 2076, background: "#fff", overflow: "hidden" }}>
      <Panel w={3145} h={1060} top={0} margin={{ top: 107, right: 49, bottom: 28, left: 20 }} xDomain={[24.134, 37.845]} yDomain={[0.303, 1.666]}
        yTicks={aYTicks} topTicks={aTopTicks} high={aHigh} low={aLow} topDots={toDots(aTopDots, aTopFringe)} bottomDots={toDots(aBottomDots, aBottomFringe)} events={aEvents} xMargin={65} labelOffset={52} />
      <Panel w={3145} h={1036} top={1040} margin={{ top: 37, right: 56, bottom: 52, left: 10 }} xDomain={[24.181, 37.871]} yDomain={[-0.848, 2.876]}
        yTicks={bYTicks} topTicks={bTopTicks} high={bHigh} low={bLow} topDots={toDots(bTopDots, bTopFringe)} bottomDots={toDots(bBottomDots, bBottomFringe)} events={bEvents} xMargin={60} labelOffset={50} />
      <div style={{ position: "absolute", left: 228, top: 34, fontFamily: SANS, fontSize: 47, lineHeight: "52px", color: "#111" }}>(a)</div>
      <div style={{ position: "absolute", left: 228, top: 1011, fontFamily: SANS, fontSize: 47, lineHeight: "52px", color: "#111" }}>(b)</div>
    </div>
  );
}
